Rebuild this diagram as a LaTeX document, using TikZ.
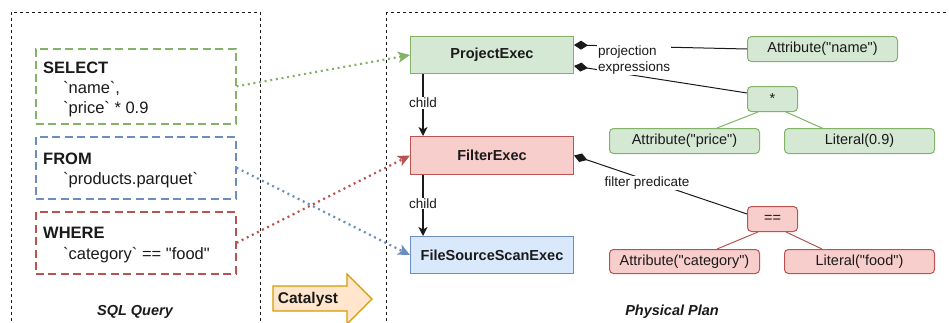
\documentclass[tikz,border=0pt]{standalone}
\usepackage{fontspec}
\setmainfont{Liberation Sans}[Ligatures=TeXOff]
\usetikzlibrary{arrows.meta,calc}

\definecolor{gfill}{HTML}{D5E8D4}\definecolor{gline}{HTML}{82B366}
\definecolor{rfill}{HTML}{F8CECC}\definecolor{rline}{HTML}{B85450}
\definecolor{bfill}{HTML}{DAE8FC}\definecolor{bline}{HTML}{6C8EBF}
\definecolor{ofill}{HTML}{FFE6CC}\definecolor{oline}{HTML}{D79B00}
\definecolor{ink}{HTML}{1A1A1A}

\begin{document}
\begin{tikzpicture}[x=1pt,y=-1pt,
  outer/.style={draw=ink, line width=0.8pt, dash pattern=on 3pt off 3pt},
  sqlbox/.style={line width=1.6pt, dash pattern=on 8pt off 4.5pt, anchor=north west,
    minimum width=200pt, inner sep=0pt},
  sqlkw/.style={anchor=base west, inner sep=0pt, text=ink,
    font=\fontsize{16.5}{19}\selectfont\bfseries},
  sqltx/.style={anchor=base west, inner sep=0pt, text=ink,
    font=\fontsize{16.5}{19}\selectfont},
  execbox/.style={draw, line width=1pt, anchor=north west, minimum width=163pt,
    inner sep=0pt, text=ink, font=\fontsize{14.5}{17}\selectfont\bfseries},
  exprbox/.style={draw, line width=1pt, rounded corners=4pt, anchor=north west,
    minimum height=25pt, inner sep=0pt, text=ink, font=\fontsize{14.5}{17}\selectfont},
  lbl/.style={text=ink, font=\fontsize{13.5}{15.5}\selectfont, inner sep=1pt, fill=white},
  heading/.style={text=ink, font=\fontsize{14.5}{17}\selectfont\bfseries\itshape},
  dotarrow/.style={line width=2.2pt, dash pattern=on 2pt off 3.7pt,
    -{Stealth[length=12pt,width=11pt,inset=3pt]}},
  childarrow/.style={draw=ink, line width=1.2pt, -{Stealth[length=9pt,width=9pt,inset=2.5pt]}},
  comp/.style={draw=ink, line width=1pt, {Diamond[length=14pt,width=9pt]}-},
  treeedge/.style={line width=1pt}]
\useasboundingbox (0,0) rectangle (949,322);

% outer frames
\draw[outer] (11,12) rectangle (260,345);
\draw[outer] (386,12) rectangle (975,345);

% SQL query clauses
\node[sqlbox, draw=gline, minimum height=75pt] (select) at (35,48) {};
\node[sqlbox, draw=bline, minimum height=62pt] (from) at (35,136) {};
\node[sqlbox, draw=rline, minimum height=62pt] (where) at (35,211) {};

\node[sqlkw] (selkw) at (43,73) {SELECT};
\node[sqltx] (selname) at (63,93) {`name`,};
\node[sqltx] (selprice) at (63,113) {`price` * 0.9};
\node[sqlkw] (fromkw) at (43,164) {FROM};
\node[sqltx] (fromtbl) at (63,184) {`products.parquet`};
\node[sqlkw] (wherekw) at (43,238) {WHERE};
\node[sqltx] (wherecond) at (63,259) {`category` == "food"};

\node[heading] (sqltitle) at (135,312) {SQL Query};

% Catalyst arrow
\draw[fill=ofill, draw=oline, line width=1.2pt]
  (273,286) -- (347,286) -- (347,274) -- (372,299) -- (347,324) -- (347,311) -- (273,311) -- cycle;
\node[text=ink, font=\fontsize{15.5}{18}\selectfont\bfseries] (catalyst) at (308,299) {Catalyst};

% physical operators
\node[execbox, fill=gfill, draw=gline, minimum height=37pt] (project) at (410,36) {ProjectExec};
\node[execbox, fill=rfill, draw=rline, minimum height=38pt] (filter) at (410,136) {FilterExec};
\node[execbox, fill=bfill, draw=bline, minimum height=37pt] (scan) at (410,236) {FileSourceScanExec};

\node[heading] (plantitle) at (672,312) {Physical Plan};

% expressions
\node[exprbox, fill=gfill, draw=gline, minimum width=150pt] (attrname) at (747,36) {Attribute("name")};
\node[exprbox, fill=gfill, draw=gline, minimum width=50pt] (star) at (747,86) {*};
\node[exprbox, fill=gfill, draw=gline, minimum width=150pt] (attrprice) at (609,128) {Attribute("price")};
\node[exprbox, fill=gfill, draw=gline, minimum width=150pt] (lit) at (784,128) {Literal(0.9)};
\node[exprbox, fill=rfill, draw=rline, minimum width=50pt] (eq) at (747,206) {==};
\node[exprbox, fill=rfill, draw=rline, minimum width=150pt, minimum height=24pt] (attrcat) at (609,249) {Attribute("category")};
\node[exprbox, fill=rfill, draw=rline, minimum width=150pt, minimum height=24pt] (litfood) at (784,249) {Literal("food")};

% expression tree edges
\draw[treeedge, draw=gline] ($(star.south west)+(11,0)$) -- ($(attrprice.north west)+(108,0)$);
\draw[treeedge, draw=gline] ($(star.south east)+(-12,0)$) -- ($(lit.north west)+(38,0)$);
\draw[treeedge, draw=rline] ($(eq.south west)+(11,0)$) -- ($(attrcat.north west)+(108,0)$);
\draw[treeedge, draw=rline] ($(eq.south east)+(-12,0)$) -- ($(litfood.north west)+(38,0)$);

% operator composition
\draw[comp] ($(project.north east)+(0,9)$) -- (attrname.west);
\draw[comp] ($(project.south east)+(0,-8)$) -- ($(star.north west)+(0,7)$);
\draw[comp] (filter.east) -- ($(eq.west)+(0,-5)$);
\node[lbl, anchor=west, align=left] (projlbl) at (597,60) {projection\\expressions};
\node[lbl] (predlbl) at (647,183) {filter predicate};

% child links
\draw[childarrow] ($(project.south west)+(13,0)$) -- ($(filter.north west)+(13,0)$)
  node[lbl, midway, yshift=2pt] (child1) {child};
\draw[childarrow] ($(filter.south west)+(13,0)$) -- ($(scan.north west)+(13,0)$)
  node[lbl, midway, yshift=2pt] (child2) {child};

% clause to operator mapping
\draw[dotarrow, draw=gline] (select.east) -- (project.west);
\draw[dotarrow, draw=bline] (from.east) -- (scan.west);
\draw[dotarrow, draw=rline] (where.east) -- (filter.west);
\end{tikzpicture}
\end{document}
